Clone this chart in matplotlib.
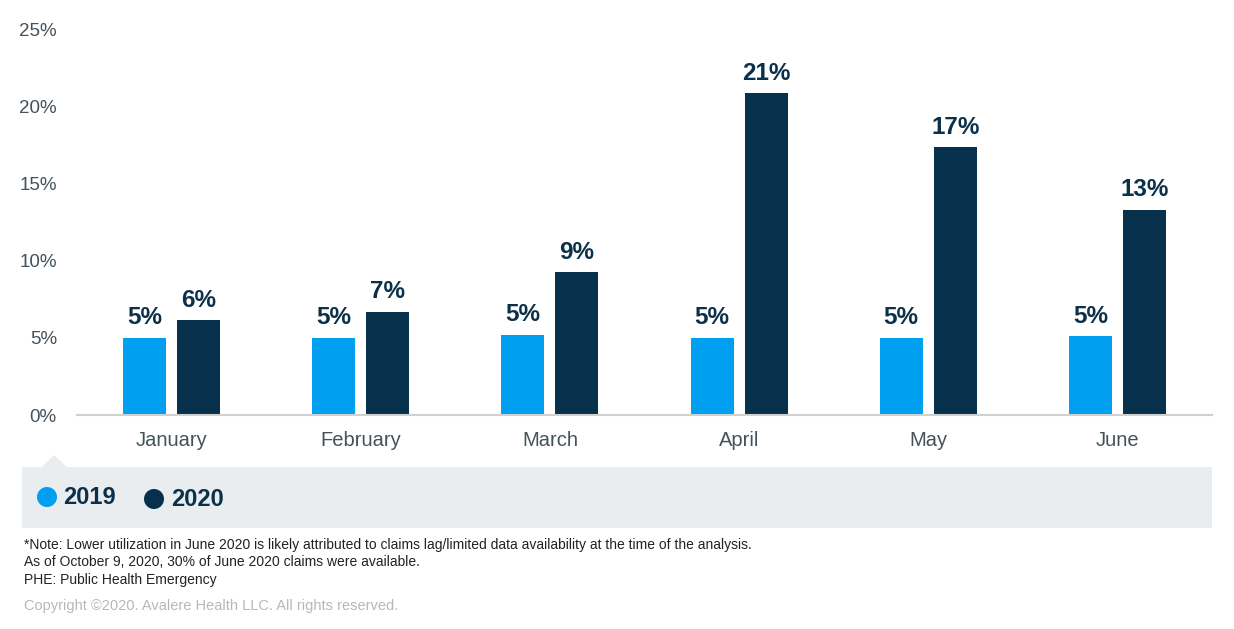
import matplotlib.pyplot as plt
from matplotlib.patches import Rectangle, Polygon, Circle
import numpy as np

plt.rcParams['font.family'] = ['Liberation Sans', 'DejaVu Sans']

months = ['January', 'February', 'March', 'April', 'May', 'June']
vals_2019 = [5.0, 5.0, 5.2, 5.0, 5.0, 5.1]
vals_2020 = [6.15, 6.7, 9.25, 20.85, 17.35, 13.3]
labels_2019 = ['5%', '5%', '5%', '5%', '5%', '5%']
labels_2020 = ['6%', '7%', '9%', '21%', '17%', '13%']
yticks = [0, 5, 10, 15, 20, 25]

c19 = '#009fef'
c20 = '#06304b'
navy = '#0b3049'
grey_txt = '#44525c'

W, H = 1234, 629
fig = plt.figure(figsize=(W / 100, H / 100), dpi=100)

# axes placed in pixel coords: left 77, right 1212, 0% at y=415, 25% at y=29
ax = fig.add_axes([77 / W, 1 - 415 / H, (1212 - 77) / W, (415 - 29) / H])
x = np.arange(len(months))
bw = 0.227
off = 0.143
b1 = ax.bar(x - off, vals_2019, bw, color=c19)
b2 = ax.bar(x + off, vals_2020, bw, color=c20)
for bars, labs in ((b1, labels_2019), (b2, labels_2020)):
    for b, t in zip(bars, labs):
        ax.annotate(t, (b.get_x() + b.get_width() / 2, b.get_height()),
                    xytext=(0, 6), textcoords='offset points', ha='center', va='bottom',
                    fontsize=17.5, fontweight='bold', color=navy)

ax.set_xlim(-0.5, len(months) - 0.5)
ax.set_ylim(0, 25)
ax.set_yticks(yticks)
ax.set_yticklabels([f'{v}%' for v in yticks])
ax.set_xticks(x)
ax.set_xticklabels(months)
ax.tick_params(axis='y', length=0, labelsize=13.5, labelcolor=grey_txt, pad=14.5)
ax.tick_params(axis='x', length=0, labelsize=14.5, labelcolor=grey_txt, pad=11.5)
for s in ['top', 'right', 'left']:
    ax.spines[s].set_visible(False)
ax.spines['bottom'].set_color('#d0d0d0')
ax.spines['bottom'].set_linewidth(1.5)

# legend band with small notch
band = '#e9edf0'
fig.patches.append(Rectangle((22 / W, 1 - 528 / H), (1212 - 22) / W, 61 / H,
                             transform=fig.transFigure, facecolor=band, edgecolor='none'))
fig.patches.append(Polygon([(42 / W, 1 - 467 / H), (54 / W, 1 - 455 / H), (67 / W, 1 - 467 / H)],
                           closed=True, transform=fig.transFigure, facecolor=band, edgecolor='none'))
fig.patches.append(Circle((0.47, (H - 497) / 100), 0.1, transform=fig.dpi_scale_trans,
                          facecolor=c19, edgecolor='none'))
fig.patches.append(Circle((1.54, (H - 499) / 100), 0.1, transform=fig.dpi_scale_trans,
                          facecolor=c20, edgecolor='none'))
fig.text(63 / W, 1 - 497 / H, '2019', fontsize=17, fontweight='bold', color=navy, va='center')
fig.text(171 / W, 1 - 499 / H, '2020', fontsize=17, fontweight='bold', color=navy, va='center')

note = ('*Note: Lower utilization in June 2020 is likely attributed to claims lag/limited data availability at the time of the analysis.\n'
        'As of October 9, 2020, 30% of June 2020 claims were available.\n'
        'PHE: Public Health Emergency')
fig.text(24 / W, 1 - 538 / H, note, fontsize=10, color='#222222', va='top', linespacing=1.3)
fig.text(24 / W, 1 - 606 / H, 'Copyright \u00a92020. Avalere Health LLC. All rights reserved.',
         fontsize=10.5, color='#b8b8b8', va='center')

fig.savefig('out.png', dpi=100)
